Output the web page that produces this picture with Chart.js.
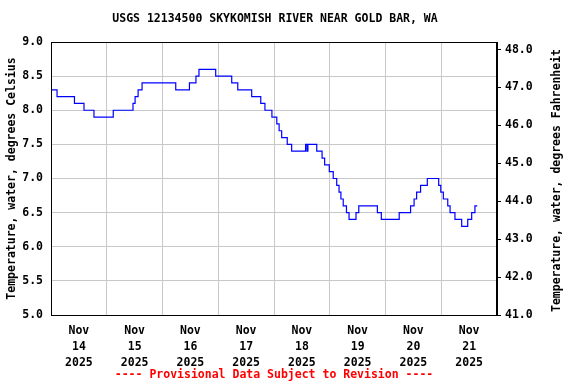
<!DOCTYPE html>
<html>
<head>
<meta charset="utf-8">
<script src="https://cdn.jsdelivr.net/npm/chart.js@4"></script>
<style>
  html, body { margin: 0; padding: 0; background: #fff; }
  #wrap { width: 576px; height: 384px; }
</style>
</head>
<body>
<div id="wrap"><canvas id="chart" width="576" height="384"></canvas></div>
<script>
// hours since Nov 14 2025 00:00 where the reading changes, and the new value (deg C)
const hours = [0, 2.6, 10.1, 14.2, 18.5, 26.8, 35.3, 36.2, 37.5, 39.2,
  53.7, 59.6, 62.4, 63.7, 70.9, 77.8, 80.4, 86.4, 90.3, 92.1,
  95.1, 97.2, 98.2, 99.3, 101.7, 103.6, 109.6, 110.2, 110.6, 114.4,
  116.7, 117.8, 119.8, 121.5, 123.0, 124.0, 124.8, 125.8, 127.2, 128.3,
  131.3, 132.5, 140.5, 142.2, 149.9, 154.8, 156.3, 157.4, 159.1, 162.0,
  166.9, 167.8, 168.9, 170.8, 171.8, 173.9, 176.8, 179.4, 181.1, 182.5,
  183.5];
const tempC = [8.3, 8.2, 8.1, 8.0, 7.9, 8.0, 8.1, 8.2, 8.3, 8.4,
  8.3, 8.4, 8.5, 8.6, 8.5, 8.4, 8.3, 8.2, 8.1, 8.0,
  7.9, 7.8, 7.7, 7.6, 7.5, 7.4, 7.5, 7.4, 7.5, 7.4,
  7.3, 7.2, 7.1, 7.0, 6.9, 6.8, 6.7, 6.6, 6.5, 6.4,
  6.5, 6.6, 6.5, 6.4, 6.5, 6.6, 6.7, 6.8, 6.9, 7.0,
  6.9, 6.8, 6.7, 6.6, 6.5, 6.4, 6.3, 6.4, 6.5, 6.6,
  6.6];

const dayLabels = ["14", "15", "16", "17", "18", "19", "20", "21"];
const monthLabel = "Nov";
const yearLabel = "2025";
const fahrenheitTicks = [41, 42, 43, 44, 45, 46, 47, 48];

const FONT = "'DejaVu Sans Mono', monospace";

// extra texts: header, footer, right axis title, and the frame
const extras = {
  id: "extras",
  afterDraw(chart) {
    const ctx = chart.ctx;
    const a = chart.chartArea;
    ctx.save();
    ctx.strokeStyle = "#000";
    ctx.lineWidth = 1;
    ctx.strokeRect(a.left + 0.5, a.top + 0.5, a.right - a.left - 1, a.bottom - a.top);

    ctx.textAlign = "center";
    ctx.textBaseline = "middle";
    ctx.font = "bold 11.5px " + FONT;
    ctx.fillStyle = "#000";
    ctx.fillText("USGS 12134500 SKYKOMISH RIVER NEAR GOLD BAR, WA", 275, 19);

    ctx.fillStyle = "#ff0000";
    ctx.fillText("---- Provisional Data Subject to Revision ----", 274, 375);

    ctx.fillStyle = "#000";
    ctx.translate(557, (a.top + a.bottom) / 2 + 2);
    ctx.rotate(-Math.PI / 2);
    ctx.fillText("Temperature, water, degrees Fahrenheit", 0, 0);
    ctx.restore();
  }
};

new Chart(document.getElementById("chart"), {
  type: "line",
  data: {
    datasets: [{
      data: hours.map((h, i) => ({ x: h, y: tempC[i] })),
      borderColor: "#0000ff",
      borderWidth: 1.2,
      pointRadius: 0,
      stepped: "before",
      fill: false,
      yAxisID: "y"
    }]
  },
  options: {
    responsive: false,
    animation: false,
    layout: { padding: { top: 42, left: 0, right: 0, bottom: 0 } },
    plugins: { legend: { display: false }, tooltip: { enabled: false }, title: { display: false } },
    scales: {
      x: {
        type: "linear",
        min: 0,
        max: 192,
        afterBuildTicks: s => { s.ticks = []; for (let h = 0; h <= 192; h += 12) s.ticks.push({ value: h }); },
        afterFit: s => { s.height = 69; },
        border: { display: true, color: "#000", width: 1 },
        grid: {
          drawTicks: false,
          color: c => (c.tick && c.tick.value % 24 === 0 && c.tick.value > 0 && c.tick.value < 192) ? "#c8c8c8" : "rgba(0,0,0,0)",
          lineWidth: 1
        },
        ticks: {
          autoSkip: false,
          maxRotation: 0,
          padding: 8,
          color: "#000",
          font: { family: FONT, size: 11.5, weight: "bold", lineHeight: 1.4 },
          callback: v => {
            if ((v - 12) % 24 !== 0) return "";
            return [monthLabel, dayLabels[(v - 12) / 24], yearLabel];
          }
        }
      },
      y: {
        position: "left",
        min: 5,
        max: 9,
        afterFit: s => { s.width = 51; },
        border: { display: true, color: "#000", width: 1 },
        grid: { drawTicks: false, color: "#c8c8c8", lineWidth: 1 },
        ticks: {
          stepSize: 0.5,
          padding: 8,
          color: "#000",
          font: { family: FONT, size: 11.5, weight: "bold" },
          callback: v => v.toFixed(1)
        },
        title: {
          display: true,
          text: "Temperature, water, degrees Celsius",
          color: "#000",
          padding: { top: 5, bottom: 0 },
          font: { family: FONT, size: 11.5, weight: "bold" }
        }
      },
      y2: {
        position: "right",
        min: 41,
        max: 48.2,
        afterBuildTicks: s => { s.ticks = fahrenheitTicks.map(v => ({ value: v })); },
        afterFit: s => { s.width = 79; },
        border: { display: true, color: "#000", width: 1 },
        grid: { drawOnChartArea: false, drawTicks: true, tickLength: 4, color: "#000", lineWidth: 1 },
        ticks: {
          padding: 4,
          color: "#000",
          font: { family: FONT, size: 11.5, weight: "bold" },
          callback: v => v.toFixed(1)
        }
      }
    }
  },
  plugins: [extras]
});
</script>
</body>
</html>
